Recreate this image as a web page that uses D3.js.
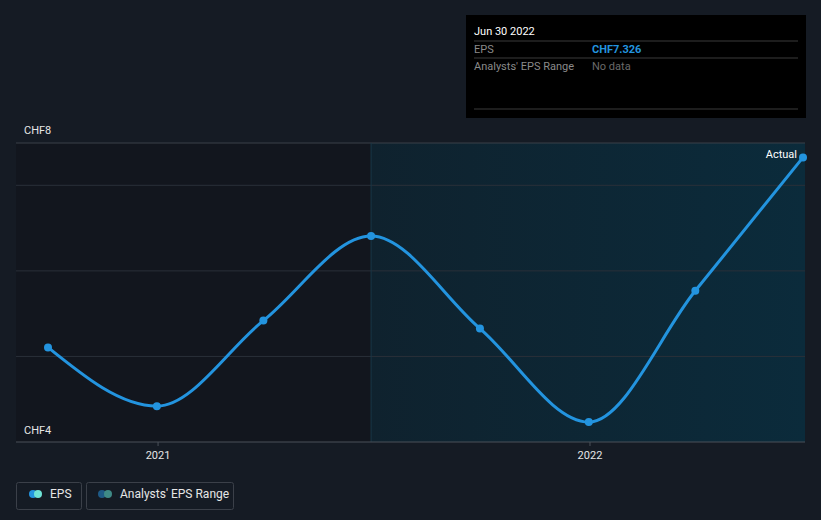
<!DOCTYPE html>
<html><head><meta charset="utf-8">
<script src="https://cdn.jsdelivr.net/npm/d3@7"></script>
<style>
body{margin:0;background:#151b24;}
svg{display:block;font-family:Roboto,"Noto Sans",sans-serif;}
</style></head><body>
<svg id="c" width="821" height="520"></svg>
<script>
const dates = ["2020-09-30","2020-12-31","2021-03-31","2021-06-30","2021-09-30","2021-12-31","2022-03-31","2022-06-30"];
const eps = [5.105, 4.419, 5.419, 6.407, 5.326, 4.233, 5.767, 7.326];
const yTicks = [4, 5, 6, 7];
const xTicks = ["2021-01-01","2022-01-01"];
const xTickLabels = ["2021","2022"];
const forecastStart = "2021-06-30";

const parse = d3.utcParse("%Y-%m-%d");
const svg = d3.select("#c");
const W = 821, H = 520;
const L = 16, R = 805, T = 143, B = 442;

svg.append("rect").attr("width",W).attr("height",H).attr("fill","#151b24");

const x = d3.scaleUtc().domain([parse("2020-09-30"), parse("2022-06-30")]).range([48, 803]);
const y = d3.scaleLinear().domain([4, 7]).range([B, 185.3]);

const defs = svg.append("defs");
const g1 = defs.append("linearGradient").attr("id","rg").attr("x1","0").attr("x2","1");
g1.append("stop").attr("offset","0").attr("stop-color","#0f222e");
g1.append("stop").attr("offset","1").attr("stop-color","#0b2b3b");

const fx = x(parse(forecastStart));
svg.append("rect").attr("x",L).attr("y",T).attr("width",fx-L).attr("height",B-T).attr("fill","#12161e");
svg.append("rect").attr("x",fx).attr("y",T).attr("width",R-fx).attr("height",B-T).attr("fill","url(#rg)");

// gridlines
svg.selectAll(".grid").data(yTicks.slice(1)).enter().append("line")
  .attr("x1",L).attr("x2",R).attr("y1",d=>y(d)).attr("y2",d=>y(d))
  .attr("stroke","#2a3039").attr("stroke-width",1);
svg.append("line").attr("x1",L).attr("x2",R).attr("y1",T).attr("y2",T).attr("stroke","#3b4049");
svg.append("line").attr("x1",fx).attr("x2",fx).attr("y1",T).attr("y2",B).attr("stroke","#173848");

// x axis
svg.append("line").attr("x1",L).attr("x2",R).attr("y1",B).attr("y2",B).attr("stroke","#4b5059");
xTicks.forEach((t,i)=>{
  const px = x(parse(t));
  svg.append("line").attr("x1",px).attr("x2",px).attr("y1",B).attr("y2",B+4).attr("stroke","#4b5059");
  svg.append("text").attr("x",px).attr("y",459).attr("text-anchor","middle").attr("fill","#e6e6e6")
    .attr("font-size",11).text(xTickLabels[i]);
});

// y labels
svg.append("text").attr("x",24).attr("y",134).attr("fill","#e6e6e6").attr("font-size",11).text("CHF8");
svg.append("text").attr("x",24).attr("y",434).attr("fill","#e6e6e6").attr("font-size",11).text("CHF" + yTicks[0]);

// line
const data = dates.map((d,i)=>({d:parse(d), v:eps[i]}));
const line = d3.line().x(d=>x(d.d)).y(d=>y(d.v)).curve(d3.curveMonotoneX);
svg.append("path").datum(data).attr("d",line).attr("fill","none").attr("stroke","#2394df").attr("stroke-width",3);
svg.selectAll(".pt").data(data).enter().append("circle")
  .attr("cx",d=>x(d.d)).attr("cy",d=>y(d.v)).attr("r",4).attr("fill","#2394df");

svg.append("text").attr("x",797).attr("y",158).attr("text-anchor","end").attr("fill","#ffffff").attr("font-size",11).text("Actual");

// tooltip
const tt = svg.append("g");
tt.append("rect").attr("x",466).attr("y",15).attr("width",340).attr("height",103).attr("fill","#000000");
tt.append("text").attr("x",474).attr("y",35).attr("fill","#ffffff").attr("font-size",11).text("Jun 30 2022");
[41,58,109].forEach(yy=>tt.append("line").attr("x1",474).attr("x2",798).attr("y1",yy).attr("y2",yy).attr("stroke","#3a3a3a"));
tt.append("text").attr("x",474).attr("y",53).attr("fill","#8a8a8a").attr("font-size",11).text("EPS");
tt.append("text").attr("x",592).attr("y",53).attr("fill","#2394df").attr("font-size",11).attr("font-weight","bold").text("CHF" + eps[eps.length-1].toFixed(3));
tt.append("text").attr("x",474).attr("y",70).attr("fill","#8a8a8a").attr("font-size",11).text("Analysts' EPS Range");
tt.append("text").attr("x",592).attr("y",70).attr("fill","#6a6a6a").attr("font-size",11).text("No data");

// legend
const lg = svg.append("g");
lg.append("rect").attr("x",16.5).attr("y",482.5).attr("width",65).attr("height",27).attr("rx",2).attr("fill","none").attr("stroke","#3b4049");
lg.append("circle").attr("cx",33).attr("cy",494).attr("r",4).attr("fill","#2394df");
lg.append("circle").attr("cx",38).attr("cy",494).attr("r",4).attr("fill","#6ee3d6");
lg.append("text").attr("x",50).attr("y",498).attr("fill","#e6e6e6").attr("font-size",12).text("EPS");
lg.append("rect").attr("x",86.5).attr("y",482.5).attr("width",147).attr("height",27).attr("rx",2).attr("fill","none").attr("stroke","#3b4049");
lg.append("circle").attr("cx",102).attr("cy",494).attr("r",4).attr("fill","#1e5a86");
lg.append("circle").attr("cx",108).attr("cy",494).attr("r",4).attr("fill","#3f8a86");
lg.append("text").attr("x",120).attr("y",498).attr("fill","#e6e6e6").attr("font-size",12).text("Analysts' EPS Range");
</script></body></html>
